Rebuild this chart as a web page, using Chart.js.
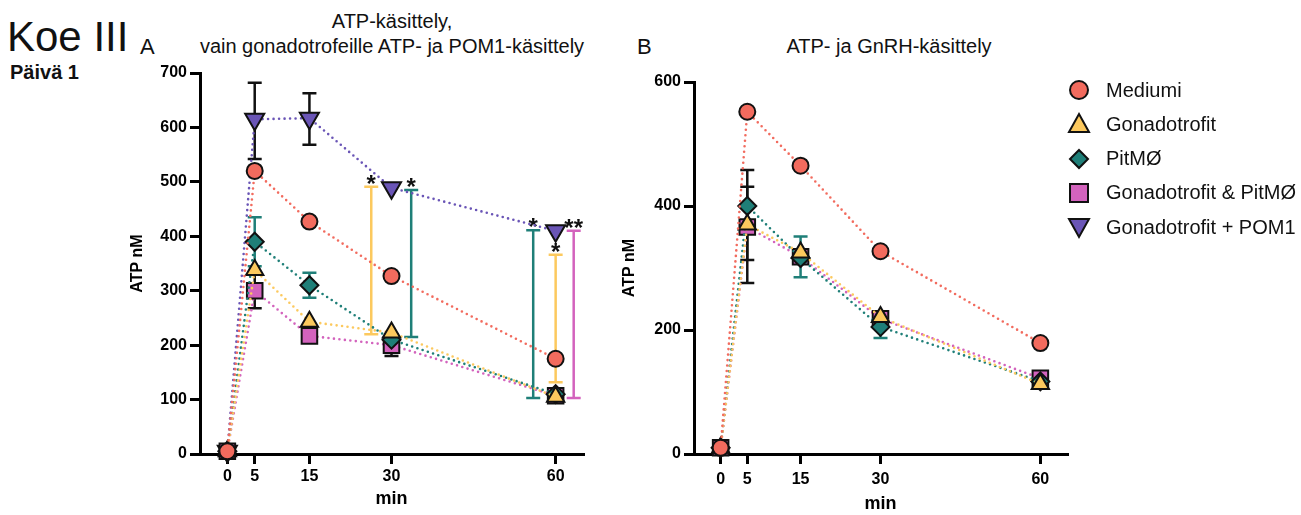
<!DOCTYPE html>
<html>
<head>
<meta charset="utf-8">
<script src="https://cdn.jsdelivr.net/npm/chart.js@4.4.0/dist/chart.umd.min.js"></script>
<style>
  body { margin: 0; width: 1301px; height: 515px; background: #fff; position: relative; overflow: hidden;
         font-family: "Liberation Sans", Arial, sans-serif; color: #111; }
  .abs { position: absolute; white-space: nowrap; }
  canvas { position: absolute; }
  #legend { position: absolute; left: 1066px; top: 73px; z-index: 2; }
  #legend .row { height: 34.25px; display: flex; align-items: center; font-size: 20px; }
  #legend svg { width: 26px; height: 26px; margin-right: 14px; }
</style>
</head>
<body>
<div class="abs" style="left:7px;top:16px;font-size:42px;line-height:42px;">Koe III</div>
<div class="abs" style="left:10px;top:62px;font-size:20px;line-height:20px;font-weight:bold;">Päivä 1</div>
<div class="abs" style="left:140px;top:36px;font-size:22px;line-height:22px;">A</div>
<div class="abs" style="left:192px;top:9px;width:400px;text-align:center;font-size:20px;line-height:25px;">ATP-käsittely,<br>vain gonadotrofeille ATP- ja POM1-käsittely</div>
<div class="abs" style="left:637px;top:36px;font-size:22px;line-height:22px;">B</div>
<div class="abs" style="left:739px;top:34px;width:300px;text-align:center;font-size:20px;line-height:25px;">ATP- ja GnRH-käsittely</div>

<canvas id="chartA" width="500" height="455" style="left:100px;top:60px;"></canvas>
<canvas id="chartB" width="480" height="455" style="left:600px;top:60px;"></canvas>
<div id="legend"></div>

<script>
// time points (min) and x-axis tick labels
const minutes = [0, 5, 15, 30, 60];
const xTickValues = [0, 5, 15, 30, 60];

const seriesNames = ['Mediumi', 'Gonadotrofit', 'PitMØ', 'Gonadotrofit & PitMØ', 'Gonadotrofit + POM1'];
const seriesColors = ['#f26b5e', '#fcc95e', '#1f7f78', '#d363bd', '#6a55b6'];
const seriesShapes = ['circle', 'triangle', 'rectRot', 'rect', 'triangleDown'];

// Panel A: ATP nM
const mediumiA = [5, 520, 427, 327, 175];
const gonadA   = [5, 338, 243, 223, 105];
const pitA     = [5, 390, 310, 210, 110];
const bothA    = [5, 300, 217, 200, 107];
const pom1A    = [5, 615, 617, 489, 410];

// Panel A error bars [low, high]
const pitErrA  = [null, [345, 435], [287, 333], null, null];
const bothErrA = [null, [268, 332], null, [180, 220], null];
const pom1ErrA = [null, [542, 682], [568, 663], null, null];

// Panel A significance bars (drawn beside the 30 and 60 min points)
const sigX     = [26.3, 33.6, 55.9, 60, 63.3];
const sigLow   = [220, 215, 103, 132, 103];
const sigHigh  = [491, 485, 411, 366, 410];
const sigSeries = [1, 2, 2, 1, 3];
const sigMarks = ['*', '*', '*', '*', '**'];

// Panel B: ATP nM
const mediumiB = [10, 552, 465, 327, 179];
const gonadB   = [10, 370, 325, 221, 113];
const pitB     = [10, 400, 316, 205, 117];
const bothB    = [10, 366, 318, 218, 122];

const gonadErrB = [null, [276, 458], null, null, null];
const pitErrB   = [null, null, [285, 351], [187, 223], null];
const bothErrB  = [null, [313, 431], null, null, null];

Chart.defaults.font.family = '"Liberation Sans", Arial, sans-serif';
Chart.defaults.color = '#000';

const radii = { circle: 8, triangle: 10, rectRot: 9, rect: 11, triangleDown: 11 };

function makeDataset(i, values) {
  const shape = seriesShapes[i];
  return {
    label: seriesNames[i],
    data: minutes.map((m, k) => ({x: m, y: values[k]})),
    borderColor: seriesColors[i],
    backgroundColor: seriesColors[i],
    borderWidth: 2.6,
    borderDash: [0, 5.5],
    borderCapStyle: 'round',
    tension: 0,
    pointStyle: shape === 'triangleDown' ? 'triangle' : shape,
    pointRotation: shape === 'triangleDown' ? 180 : 0,
    pointRadius: radii[shape],
    pointBackgroundColor: seriesColors[i],
    pointBorderColor: '#111',
    pointBorderWidth: 2,
    clip: false
  };
}

function errBars(errs) {
  const out = [];
  errs.forEach(([arr, color]) => {
    arr.forEach((e, k) => {
      if (e) out.push({x: minutes[k], lo: e[0], hi: e[1], color: color});
    });
  });
  return out;
}

const errorBarPlugin = {
  id: 'errorBars',
  beforeDatasetsDraw(chart, args, opts) {
    const {ctx, scales: {x, y}} = chart;
    ctx.save();
    ctx.lineWidth = 2.5;
    (opts.bars || []).forEach(b => {
      const px = x.getPixelForValue(b.x);
      const lo = y.getPixelForValue(b.lo);
      const hi = y.getPixelForValue(b.hi);
      ctx.strokeStyle = b.color;
      ctx.beginPath();
      ctx.moveTo(px, lo); ctx.lineTo(px, hi);
      ctx.moveTo(px - 7, lo); ctx.lineTo(px + 7, lo);
      ctx.moveTo(px - 7, hi); ctx.lineTo(px + 7, hi);
      ctx.stroke();
      if (b.mark) {
        ctx.fillStyle = '#111';
        ctx.font = 'bold 24px "Liberation Sans", Arial, sans-serif';
        ctx.textAlign = 'center';
        ctx.textBaseline = 'alphabetic';
        ctx.fillText(b.mark, px, hi + 5);
      }
    });
    ctx.restore();
  }
};

function panelOptions(p) {
  return {
    responsive: false,
    animation: false,
    devicePixelRatio: 1,
    layout: { padding: p.padding },
    plugins: {
      legend: { display: false },
      tooltip: { enabled: false },
      errorBars: { bars: p.bars }
    },
    scales: {
      x: {
        type: 'linear', min: -5, max: 65,
        afterBuildTicks: s => { s.ticks = xTickValues.map(v => ({value: v})); },
        afterFit: s => { s.height = p.xHeight; },
        grid: { drawOnChartArea: false, drawTicks: true, tickLength: 10, tickWidth: 3, tickColor: '#000', lineWidth: 3, color: '#000' },
        border: { display: true, color: '#000', width: 3 },
        ticks: { color: '#000', font: {size: 16, weight: 'bold'}, padding: p.xPad, maxRotation: 0, autoSkip: false },
        title: { display: true, text: 'min', color: '#000', font: {size: 18, weight: 'bold'}, padding: {top: 0, bottom: p.xTitlePad} }
      },
      y: {
        min: 0, max: p.yMax,
        afterFit: s => { s.width = p.yWidth; },
        grid: { drawOnChartArea: false, drawTicks: true, tickLength: 10, tickWidth: 3, tickColor: '#000', lineWidth: 3, color: '#000' },
        border: { display: true, color: '#000', width: 3 },
        ticks: { stepSize: p.yStep, color: '#000', font: {size: 16, weight: 'bold'}, padding: 3 },
        title: { display: true, text: 'ATP nM', color: '#000', font: {size: 16, weight: 'bold'}, padding: {top: p.yTitlePad, bottom: 0} }
      }
    }
  };
}

const barsA = errBars([
  [pitErrA, seriesColors[2]],
  [bothErrA, '#111'],
  [pom1ErrA, '#111']
]).concat(sigX.map((x, i) => ({
  x: x, lo: sigLow[i], hi: sigHigh[i], color: seriesColors[sigSeries[i]], mark: sigMarks[i]
})));

new Chart(document.getElementById('chartA'), {
  type: 'line',
  data: { datasets: [
    makeDataset(0, mediumiA), makeDataset(1, gonadA), makeDataset(2, pitA),
    makeDataset(3, bothA), makeDataset(4, pom1A)
  ] },
  options: panelOptions({
    padding: {left: 0, right: 17, top: 12, bottom: 0},
    xHeight: 61, yWidth: 100, xPad: 3, xTitlePad: 5, yTitlePad: 28,
    yMax: 700, yStep: 100, bars: barsA
  }),
  plugins: [errorBarPlugin]
});

const barsB = errBars([
  [gonadErrB, '#111'],
  [pitErrB, seriesColors[2]],
  [bothErrB, '#111']
]);

new Chart(document.getElementById('chartB'), {
  type: 'line',
  data: { datasets: [
    makeDataset(0, mediumiB), makeDataset(1, gonadB), makeDataset(2, pitB), makeDataset(3, bothB)
  ] },
  options: panelOptions({
    padding: {left: 0, right: 10, top: 22, bottom: 0},
    xHeight: 61, yWidth: 94, xPad: 6, xTitlePad: 0, yTitlePad: 20,
    yMax: 600, yStep: 200, bars: barsB
  }),
  plugins: [errorBarPlugin]
});

// legend
const shapeSvg = {
  circle: c => `<circle cx="13" cy="13" r="9" fill="${c}" stroke="#111" stroke-width="2"/>`,
  triangle: c => `<polygon points="13,3 23,21 3,21" fill="${c}" stroke="#111" stroke-width="2"/>`,
  rectRot: c => `<polygon points="13,4 22,13 13,22 4,13" fill="${c}" stroke="#111" stroke-width="2"/>`,
  rect: c => `<rect x="4" y="4" width="18" height="18" fill="${c}" stroke="#111" stroke-width="2"/>`,
  triangleDown: c => `<polygon points="3,5 23,5 13,23" fill="${c}" stroke="#111" stroke-width="2"/>`
};
document.getElementById('legend').innerHTML = seriesNames.map((name, i) =>
  `<div class="row"><svg viewBox="0 0 26 26">${shapeSvg[seriesShapes[i]](seriesColors[i])}</svg><span>${name}</span></div>`
).join('');
</script>
</body>
</html>
